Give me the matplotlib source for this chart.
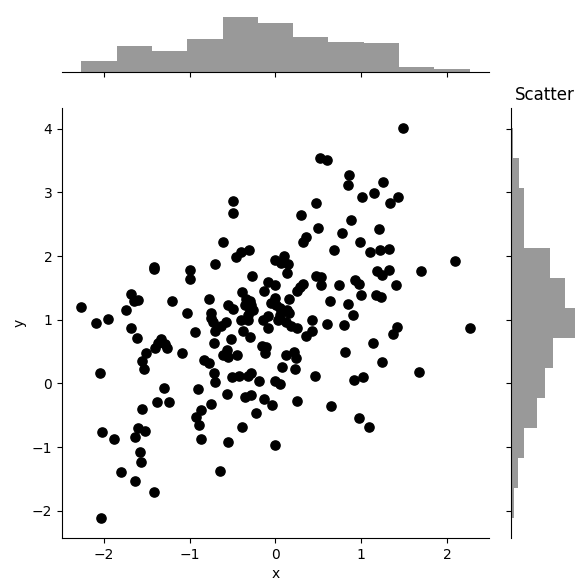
import numpy as np
import matplotlib
matplotlib.use("Agg")
import matplotlib.pyplot as plt

# points
x = [0.52, 0.60, 0.84, -0.50, -0.50, 0.475, 0.30, 0.50, 0.35, 0.32, 0.775, -0.61, -0.40, -0.31, 0.10, 0.685,
     1.48, 0.86, 1.25, 1.01, 1.15, 1.33, 1.43, 0.88, 1.20, 0.98, 1.10, 1.22, 1.32,
     -1.41, -1.42, -0.99, -0.99, -1.68, -1.65, -1.60, -1.20, -2.26, -1.74, -1.03, -2.09, -1.95, -1.68, -0.94,
     -1.61, -1.33, -1.37, -1.29, -1.40, -1.26, -1.09, -1.51, -1.55, -1.53, -0.83, -2.04, -1.30, -0.905,
     -1.55, -1.38, -1.24, -0.92, -0.865, -0.885, -0.865, -2.02, -1.88, -1.60, -1.63, -1.52, -1.58, -1.57,
     -1.80, -1.64, -1.41, -2.03,
     -0.75, -0.57, -0.36, -0.28, -0.13, -0.04, -0.23, 0.25, 0.65, -0.39, -0.55, 0.0, -0.65,
     0.97, 1.09,
     2.09, 1.70, 1.18, 1.24, 1.32, 0.93, 0.97, 0.74, 1.40, 1.00, 1.17, 1.23, 0.85, 0.90, 0.80, 1.42, 1.37,
     2.26, 1.13, 0.81, 1.235, 1.67, 0.92, 1.02,
     -0.46, -0.70, 0.0, 0.07, 0.15, 0.135, -0.27, 0.47, 0.53, -0.09, -0.01, -0.13, 0.53, 0.32, 0.28, 0.245,
     -0.39, -0.01, -0.77, -0.34, -0.30, -0.36, -0.28, -0.30, -0.26, -0.32, 0.16, -0.05, 0.01, 0.05, -0.55,
     -0.50, 0.635, 0.135, 0.16, -0.75, -0.75, -0.73, -0.09, -0.145, 0.05, 0.03, -0.40, -0.32, 0.12, 0.175,
     0.245, 0.42, 0.60, -0.58, -0.63, -0.71, -0.09, -0.38, -0.30, 0.42, 0.36, -0.52, -0.72, -0.16, -0.105,
     -0.125, -0.57, -0.61, -0.55, -0.45, -0.77, 0.22, 0.235, 0.12, 0.08, 0.23, -0.72, -0.51, -0.42, -0.32,
     -0.28, -0.70, -0.19, -0.01, 0.05, 0.46]
y = [3.54, 3.51, 3.12, 2.87, 2.68, 2.83, 2.65, 2.44, 2.30, 2.23, 2.36, 2.23, 2.06, 2.10, 2.01, 2.09,
     4.02, 3.27, 3.17, 2.93, 2.99, 2.84, 2.93, 2.57, 2.43, 2.22, 2.07, 2.09, 2.11,
     1.83, 1.80, 1.79, 1.64, 1.41, 1.30, 1.31, 1.30, 1.20, 1.15, 1.11, 0.95, 1.01, 0.87, 0.81,
     0.72, 0.70, 0.64, 0.62, 0.56, 0.56, 0.48, 0.48, 0.36, 0.22, 0.37, 0.16, -0.07, -0.09,
     -0.40, -0.29, -0.29, -0.53, -0.42, -0.66, -0.87, -0.76, -0.87, -0.70, -0.84, -0.75, -1.08, -1.24,
     -1.39, -1.53, -1.71, -2.12,
     -0.33, -0.16, -0.21, -0.18, -0.25, -0.34, -0.46, -0.28, -0.36, -0.69, -0.92, -0.97, -1.38,
     -0.54, -0.68,
     1.92, 1.77, 1.76, 1.70, 1.79, 1.63, 1.57, 1.54, 1.55, 1.39, 1.39, 1.36, 1.25, 1.07, 0.92, 0.89, 0.78,
     0.87, 0.63, 0.49, 0.34, 0.18, 0.05, 0.10,
     1.99, 1.88, 1.94, 1.89, 1.88, 1.74, 1.69, 1.69, 1.68, 1.59, 1.54, 1.46, 1.55, 1.57, 1.51, 1.45,
     1.43, 1.35, 1.33, 1.32, 1.29, 1.23, 1.23, 1.15, 1.15, 1.08, 1.33, 1.26, 1.24, 1.19, 1.24,
     1.17, 1.30, 1.16, 1.10, 1.11, 1.03, 0.97, 1.06, 1.00, 1.08, 0.99, 0.99, 0.99, 0.97, 0.90,
     0.87, 0.99, 0.94, 0.97, 0.90, 0.83, 0.87, 0.82, 0.73, 0.82, 0.74, 0.70, 0.64, 0.59, 0.58,
     0.48, 0.53, 0.44, 0.41, 0.44, 0.32, 0.50, 0.40, 0.44, 0.26, 0.22, 0.17, 0.10, 0.11, 0.12,
     0.16, 0.02, 0.04, 0.04, -0.01, 0.12]

fig = plt.figure(figsize=(5.87, 5.87), dpi=100)
ax = fig.add_axes([0.1056, 0.0835, 0.7274, 0.7325])
ax_top = fig.add_axes([0.1056, 0.878, 0.7274, 0.0985], sharex=ax)
ax_right = fig.add_axes([0.871, 0.0835, 0.114, 0.7325], sharey=ax)

ax.scatter(x, y, s=44, color="black")
ax.set_xlabel("x")
ax.set_ylabel("y")
ax.spines[["top", "right"]].set_visible(False)

ax_top.hist(x, bins=11, color="#999999")
ax_top.spines[["top", "right", "left"]].set_visible(False)
ax_top.tick_params(axis="x", labelbottom=False)
ax_top.set_yticks([])

ax_right.hist(y, bins=13, orientation="horizontal", color="#999999")
ax_right.spines[["top", "right", "bottom"]].set_visible(False)
ax_right.tick_params(axis="y", labelleft=False)
ax_right.set_xticks([])
ax_right.set_title("Scatter")

fig.savefig("out.png", dpi=100)
